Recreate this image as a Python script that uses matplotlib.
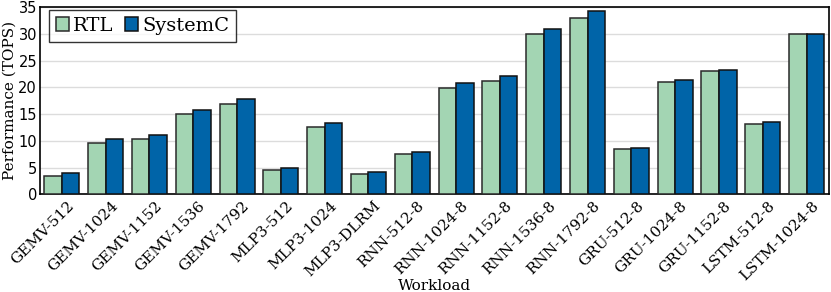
import numpy as np
import matplotlib
matplotlib.use("Agg")
import matplotlib.pyplot as plt
from matplotlib.transforms import ScaledTranslation

workloads = [
    "GEMV-512", "GEMV-1024", "GEMV-1152", "GEMV-1536", "GEMV-1792",
    "MLP3-512", "MLP3-1024", "MLP3-DLRM", "RNN-512-8", "RNN-1024-8",
    "RNN-1152-8", "RNN-1536-8", "RNN-1792-8", "GRU-512-8", "GRU-1024-8",
    "GRU-1152-8", "LSTM-512-8", "LSTM-1024-8",
]
rtl = [3.5, 9.7, 10.4, 15.0, 16.9, 4.5, 12.6, 3.9, 7.5, 19.8,
       21.1, 29.9, 33.0, 8.4, 21.0, 23.0, 13.2, 30.0]
systemc = [4.0, 10.4, 11.1, 15.8, 17.8, 4.9, 13.4, 4.2, 8.0, 20.8,
           22.1, 30.9, 34.3, 8.7, 21.3, 23.3, 13.5, 30.0]

serif = "DejaVu Serif"
plt.rcParams["font.family"] = serif

fig, ax = plt.subplots(figsize=(8.31, 2.92), dpi=100)
fig.subplots_adjust(left=0.048, right=0.997, top=0.976, bottom=0.334)

x = np.arange(len(workloads))
w = 0.4
ax.bar(x - w / 2, rtl, w, color="#a3d5b3", edgecolor="#2a2a2a", linewidth=1.1,
       label="RTL", zorder=3)
ax.bar(x + w / 2, systemc, w, color="#0064a8", edgecolor="#111111", linewidth=1.1,
       label="SystemC", zorder=3)

ax.set_xlim(-0.5, len(workloads) - 0.5)
ax.set_ylim(0, 35)
ax.set_yticks(range(0, 36, 5))
ax.yaxis.grid(True, color="#dcdcdc", linewidth=1.0, zorder=0)
ax.set_axisbelow(True)
for s in ax.spines.values():
    s.set_color("black")
    s.set_linewidth(1.2)
ax.tick_params(length=0, pad=2)
for t in ax.get_yticklabels():
    t.set_family("DejaVu Sans")
    t.set_fontsize(10.5)

ax.set_xticks(x)
ax.set_xticklabels(workloads, rotation=45, ha="right", va="top",
                   rotation_mode="anchor", fontsize=11)
ax.tick_params(axis="x", pad=3)
shift = ScaledTranslation(5 / 100, 0, fig.dpi_scale_trans)
for t in ax.get_xticklabels():
    t.set_transform(t.get_transform() + shift)
ax.set_ylabel("Performance (TOPS)", fontsize=11, labelpad=1)
ax.set_xlabel("Workload", fontsize=11, labelpad=-3)

leg = ax.legend(loc="upper left", ncol=2, fontsize=14, frameon=True, fancybox=False,
                edgecolor="black", handlelength=0.68, handleheight=0.68,
                handletextpad=0.2, columnspacing=0.6, borderpad=0.35,
                borderaxespad=0, bbox_to_anchor=(0.0114, 0.984))
leg.get_frame().set_linewidth(1.0)

fig.savefig("out.png", dpi=100)
